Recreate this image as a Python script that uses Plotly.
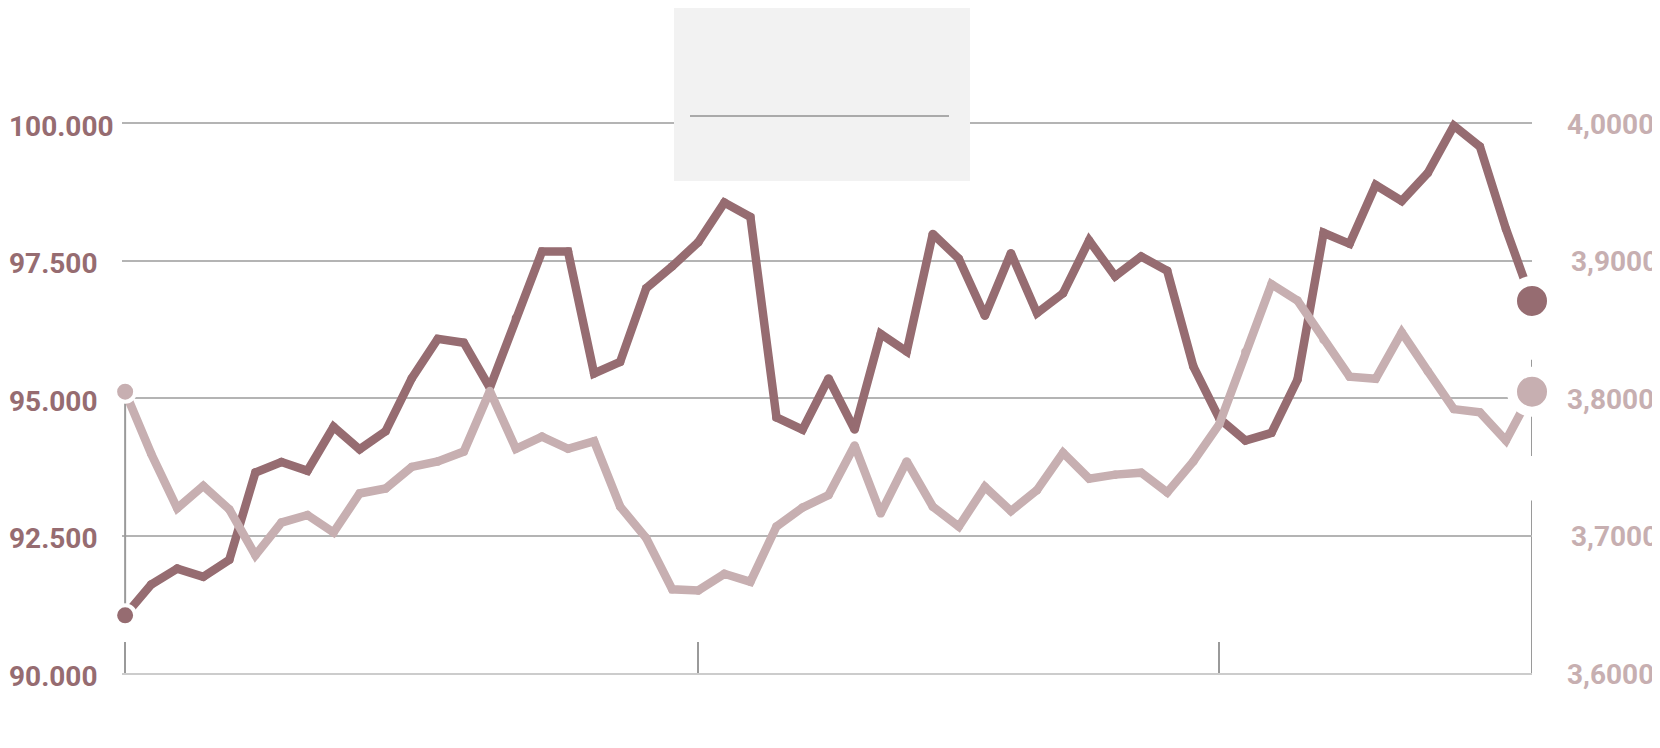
import plotly.graph_objects as go

# series values (index positions along x)
dark_vals = [91.05, 91.61, 91.90, 91.75, 92.06, 93.65, 93.84, 93.68, 94.48, 94.07,
             94.40, 95.36, 96.08, 96.01, 95.19, 96.46, 97.67, 97.67, 95.45, 95.66,
             97.00, 97.40, 97.84, 98.56, 98.30, 94.65, 94.43, 95.36, 94.43, 96.17,
             95.85, 97.99, 97.54, 96.50, 97.64, 96.55, 96.91, 97.87, 97.22, 97.58,
             97.32, 95.58, 94.63, 94.23, 94.37, 95.34, 98.01, 97.81, 98.88, 98.59,
             99.10, 99.96, 99.58, 98.08, 96.77]
light_vals = [3.8048, 3.7596, 3.7199, 3.7362, 3.7191, 3.6857, 3.7095, 3.7150, 3.7023, 3.7307,
              3.7343, 3.7500, 3.7540, 3.7612, 3.8053, 3.7632, 3.7721, 3.7632, 3.7687, 3.7211,
              3.6982, 3.6609, 3.6601, 3.6722, 3.6664, 3.7066, 3.7204, 3.7295, 3.7656, 3.7162,
              3.7540, 3.7211, 3.7066, 3.7355, 3.7179, 3.7331, 3.7603, 3.7415, 3.7444, 3.7458,
              3.7314, 3.7540, 3.7812, 3.8339, 3.8830, 3.8711, 3.8426, 3.8157, 3.8142, 3.8479,
              3.8197, 3.7921, 3.7897, 3.7692, 3.8048]
x_idx = list(range(len(dark_vals)))

left_ticks = [90, 92.5, 95, 97.5, 100]
left_text = ["90.000", "92.500", "95.000", "97.500", "100.000"]
right_ticks = [3.6, 3.7, 3.8, 3.9, 4.0]
right_text = ["3,6000", "3,7000", "3,8000", "3,9000", "4,0000"]
x_ticks = [0, 22, 42]

DARK = "#966C71"
LIGHT = "#C7AFB1"
GRID = "#B4B4B4"
AX = "#9A9A9A"
LW = 8.5

# the page body has an 8px margin, so the figure sits at (8, 8)
W, H = 1652, 740
ML, MR, MT, MB = 114, 128, 99, 75
PW, PH = W - ML - MR, H - MT - MB

y_rng = [90, 100.3]
y2_rng = [3.6, 3.6 + (y_rng[1] - 90) / 25]


def to_left(v):
    # right axis value -> left axis value (axes share the same pixels)
    return 90 + (v - 3.6) * 25


def px(x):
    return (x - 8 - ML) / PW


def py(y):
    return (H - MB - (y - 8)) / PH


fig = go.Figure()

# connector between the two starting points
fig.add_trace(go.Scatter(x=[0, 0], y=[dark_vals[0], to_left(light_vals[0])], mode="lines",
                         line=dict(color=AX, width=2), hoverinfo="skip"))

# lines, with round dots on the vertices so the joins look rounded
fig.add_trace(go.Scatter(x=x_idx, y=dark_vals, mode="lines+markers", name="dark",
                         line=dict(color=DARK, width=LW),
                         marker=dict(color=DARK, size=LW, line=dict(width=0))))
fig.add_trace(go.Scatter(x=x_idx, y=light_vals, mode="lines+markers", name="light", yaxis="y2",
                         line=dict(color=LIGHT, width=LW),
                         marker=dict(color=LIGHT, size=LW, line=dict(width=0))))

# start and end dots with a white halo
last = x_idx[-1]
for xi, size, halo in [(0, 20, 4), (last, 40, 10)]:
    fig.add_trace(go.Scatter(x=[xi], y=[dark_vals[xi]], mode="markers", cliponaxis=False,
                             marker=dict(color=DARK, size=size, opacity=1,
                                         line=dict(color="white", width=halo))))
    fig.add_trace(go.Scatter(x=[xi], y=[light_vals[xi]], mode="markers", yaxis="y2", cliponaxis=False,
                             marker=dict(color=LIGHT, size=size, opacity=1,
                                         line=dict(color="white", width=halo))))

shapes = [
    # right-hand marker line
    dict(type="line", xref="x", yref="y", x0=last, x1=last, y0=90, y1=93.14,
         line=dict(color=AX, width=2), layer="below"),
    dict(type="line", xref="x", yref="y", x0=last, x1=last, y0=93.95, y1=95.70,
         line=dict(color=AX, width=2), layer="below"),
    # legend box
    dict(type="rect", xref="paper", yref="paper", x0=px(674), x1=px(970),
         y0=py(181), y1=py(1), fillcolor="#F2F2F2", line=dict(width=0), layer="above"),
    dict(type="line", xref="paper", yref="paper", x0=px(690), x1=px(949),
         y0=py(116), y1=py(116), line=dict(color="#AAAAAA", width=2), layer="above"),
]

annotations = []
lab_font = dict(family="Roboto", size=28, weight=700)
for v, t in zip(left_ticks, left_text):
    annotations.append(dict(x=px(7), xref="paper", y=v, yref="y", text=t, showarrow=False,
                            xanchor="left", yanchor="middle", yshift=-3,
                            font=dict(lab_font, color=DARK)))
for i, (v, t) in enumerate(zip(right_ticks, right_text)):
    annotations.append(dict(x=px(1565) if i % 2 == 0 else px(1569), xref="paper", y=v, yref="y2",
                            text=t, showarrow=False, xanchor="left", yanchor="middle", yshift=-1,
                            font=dict(lab_font, color=LIGHT)))

fig.update_layout(
    width=W, height=H,
    margin=dict(l=ML, r=MR, t=MT, b=MB),
    paper_bgcolor="white", plot_bgcolor="white",
    showlegend=False,
    shapes=shapes, annotations=annotations,
    xaxis=dict(range=[-0.12, last], showgrid=False, zeroline=False,
               showline=True, linecolor="#CCCCCC", linewidth=2,
               tickvals=x_ticks, ticks="inside", ticklen=31, tickwidth=2, tickcolor=AX,
               showticklabels=False),
    yaxis=dict(range=y_rng, tickvals=left_ticks[1:], showticklabels=False,
               showgrid=True, gridcolor=GRID, gridwidth=1.5, zeroline=False),
    yaxis2=dict(range=y2_rng, overlaying="y", side="right", showgrid=False,
                showticklabels=False, zeroline=False),
)

fig.write_html("out.html")
